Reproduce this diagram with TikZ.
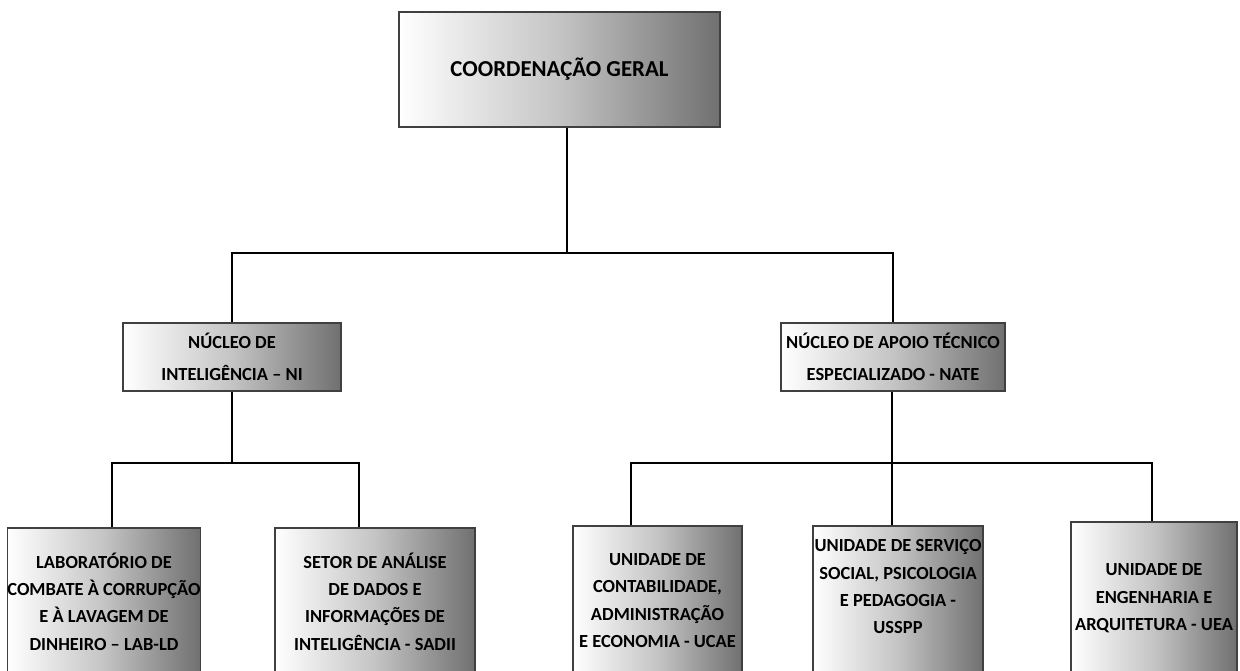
\documentclass[tikz,border=0pt]{standalone}
\usepackage{fontspec}
\setmainfont{Carlito}
\definecolor{boxedge}{RGB}{64,64,64}
\definecolor{boxdark}{RGB}{112,112,112}
\definecolor{boxmid}{RGB}{196,196,196}

\tikzset{
  unitbox/.style={draw=boxedge, line width=0.8pt, left color=white,
    right color=boxdark, middle color=boxmid, align=center, inner sep=0pt,
    font=\bfseries\fontsize{10.5}{15.6}\selectfont},
  link/.style={line width=1.2pt, draw=black}
}

\begin{document}
\begin{tikzpicture}[x=0.02cm, y=-0.02cm]
        \useasboundingbox (0,0) rectangle (1240,671);
        \clip (0,0) rectangle (1240,671);

        \node (top) [unitbox, minimum width=6.42cm, minimum height=2.3cm,
          font=\bfseries\fontsize{13}{15}\selectfont]
          at (559.5,69.5) {COORDENAÇÃO GERAL};

        \node (ni) [unitbox, minimum width=4.36cm, minimum height=1.36cm,
          font=\bfseries\fontsize{10.5}{18}\selectfont]
          at (232,357) {NÚCLEO DE\\INTELIGÊNCIA – NI};
        \node (nate) [unitbox, minimum width=4.48cm, minimum height=1.36cm,
          font=\bfseries\fontsize{10.5}{18}\selectfont]
          at (893,357) {NÚCLEO DE APOIO TÉCNICO\\ESPECIALIZADO - NATE};

        \node (lab) [unitbox, minimum width=3.84cm, minimum height=2.94cm]
          at (104,601.5) {LABORATÓRIO DE\\COMBATE À CORRUPÇÃO\\E À LAVAGEM DE\\DINHEIRO – LAB-LD};
        \node (sadii) [unitbox, minimum width=4cm, minimum height=2.94cm]
          at (375,601.5) {SETOR DE ANÁLISE\\DE DADOS E\\INFORMAÇÕES DE\\INTELIGÊNCIA - SADII};
        \node (ucae) [unitbox, minimum width=3.38cm, minimum height=2.98cm]
          at (657.5,600.5) {UNIDADE DE\\CONTABILIDADE,\\ADMINISTRAÇÃO\\E ECONOMIA - UCAE};
        \node (usspp) [unitbox, minimum width=3.4cm, minimum height=2.98cm]
          at (898,600.5) {UNIDADE DE SERVIÇO\\SOCIAL, PSICOLOGIA\\E PEDAGOGIA -\\USSPP\\[0pt]};
        \node (uea) [unitbox, minimum width=3.32cm, minimum height=3.06cm]
          at (1154,598.5) {UNIDADE DE\\ENGENHARIA E\\ARQUITETURA - UEA};

        \coordinate (hub) at (567,253);
        \coordinate (dlab) at (112,463);
        \coordinate (dsadii) at (359,463);
        \coordinate (ducae) at (631,463);
        \coordinate (dusspp) at (892,463);
        \coordinate (duea) at (1152,463);

        \draw[link] (top.south -| hub) -- (hub);
        \draw[link] (ni.north) |- (hub) -| (nate.north);

        \draw[link] (ni.south) -- (ni.south |- dlab);
        \draw[link] (dlab |- lab.north) -- (dlab) -- (dsadii) -- (dsadii |- sadii.north);

        \draw[link] (nate.south -| dusspp) -- (dusspp |- usspp.north);
        \draw[link] (ducae |- ucae.north) -- (ducae) -- (duea) -- (duea |- uea.north);
      \end{tikzpicture}
\end{document}
